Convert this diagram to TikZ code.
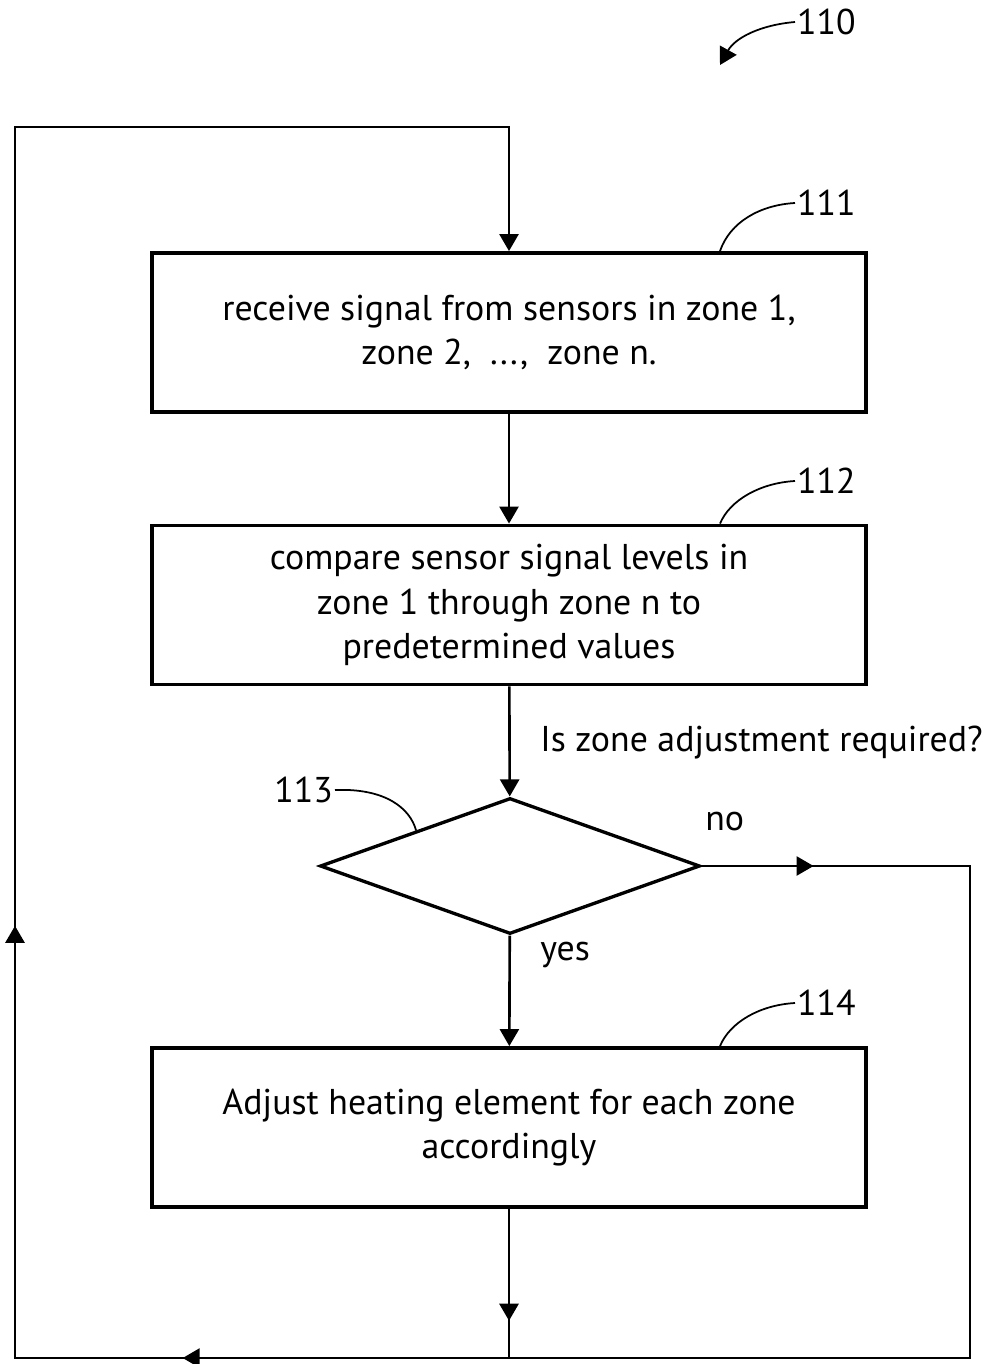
\documentclass[tikz,border=0pt]{standalone}
\usepackage{fontspec}
\setmainfont{PT Sans}
\usetikzlibrary{arrows.meta,calc,shapes.geometric,decorations.markings}

\begin{document}
\begin{tikzpicture}[x=0.02cm,y=-0.02cm,>={Triangle[length=0.34cm,width=0.38cm]},
  stepbox/.style={draw,line width=2.2pt,minimum width=14.28cm,minimum height=3.18cm,align=center,inner sep=0pt,font=\fontsize{20.4}{25.5}\selectfont},
  line/.style={line width=1.5pt},
  lead/.style={line width=1pt},
  ref/.style={font=\fontsize{20.4}{24}\selectfont,inner sep=1pt},
  lbl/.style={font=\fontsize{20.4}{24}\selectfont,inner sep=0pt}]
\useasboundingbox (0,0) rectangle (992,1364);
% steps
\node[stepbox] (s111) at (509,332.5) {receive signal from sensors in zone 1,\\zone 2, \ ..., \ zone n.};
\node[stepbox] (s112) at (509,605) {compare sensor signal levels in\\zone 1 through zone n to\\predetermined values};
\node[draw,diamond,line width=1.9pt,minimum width=7.6cm,minimum height=2.72cm,inner sep=0pt] (d113) at (510,866) {};
\node[stepbox] (s114) at (509,1127.5) {Adjust heating element for each zone\\accordingly};
% loop corners
\coordinate (tr) at (970,866);
\coordinate (br) at (970,1358);
\coordinate (bl) at (15,1358);
\coordinate (tl) at (15,127);
\coordinate (bm) at (509,1358);
% flow
\draw[line,->] (s111) -- (s112);
\draw[line,->] (s112) -- (d113);
\draw[line,->] (d113) -- (s114);
\draw[line,postaction={decorate},decoration={markings,mark=at position 0.75 with {\arrow{>}}}] (s114) -- (bm);
\draw[line,->,postaction={decorate},decoration={markings,
    mark=at position 0.0314 with {\arrow{>}},
    mark=at position 0.4342 with {\arrow{>}},
    mark=at position 0.6025 with {\arrow{>}}}]
  (d113.east) -- (tr) -- (br) -- (bl) -- (tl) -| (s111.north);
% texts
\node[lbl,anchor=west] (q) at (540,743) {Is zone adjustment required?};
\node[lbl,anchor=west] (no) at (705,822) {no};
\node[lbl,anchor=west] (yes) at (540,955) {yes};
% reference numerals
\node[ref,anchor=west] (l110) at (795,22) {110};
\node[ref,anchor=west] (l111) at (795,203) {111};
\node[ref,anchor=west] (l112) at (795,481) {112};
\node[ref,anchor=east] (l113) at (335,790) {113};
\node[ref,anchor=west] (l114) at (795,1003) {114};
\draw[lead,->] (l110.west) .. controls (760,25) and (735,38) .. (720,65);
\draw[lead] ($(s111.north)+(211,0)$) .. controls (730,222) and (760,205) .. (l111.west);
\draw[lead] ($(s112.north)+(211,0)$) .. controls (730,500) and (760,483) .. (l112.west);
\draw[lead] ($(s114.north)+(211,0)$) .. controls (730,1022) and (760,1005) .. (l114.west);
\draw[lead] (l113.east) .. controls (385,788) and (410,808) .. ($(d113.west)!0.51!(d113.north)$);
\end{tikzpicture}
\end{document}
